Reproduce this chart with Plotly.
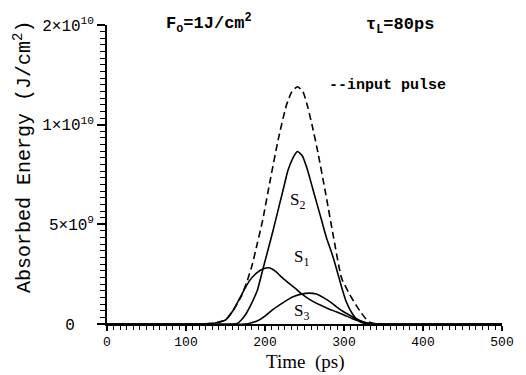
import plotly.graph_objects as go

# ---- data (values in units of 1e10 J/cm^2 per axis scale) ----
t_input = [0, 120, 130, 140, 150, 160, 170, 177, 184, 190, 197, 207, 217, 227, 234, 241,
           248, 254, 260, 266, 277, 287, 297, 307, 316, 322, 328, 335, 345, 500]
v_input = [0, 0, 0.002, 0.008, 0.02, 0.07, 0.14, 0.21, 0.30, 0.40, 0.52, 0.73, 0.93, 1.096, 1.165, 1.19,
           1.165, 1.09, 0.99, 0.88, 0.65, 0.43, 0.23, 0.15, 0.09, 0.055, 0.025, 0.005, 0, 0]

t_s1 = [0, 120, 130, 140, 150, 160, 170, 180, 190, 198, 205, 213, 221, 230, 238, 246,
        252, 260, 270, 280, 291, 300, 310, 320, 332, 345, 500]
v_s1 = [0, 0, 0.002, 0.008, 0.02, 0.07, 0.144, 0.215, 0.258, 0.277, 0.282, 0.265, 0.235, 0.205, 0.18, 0.152,
        0.135, 0.115, 0.095, 0.077, 0.06, 0.045, 0.028, 0.014, 0.003, 0, 0]

t_s2 = [0, 160, 165, 170, 175, 180, 185, 190, 197, 203, 209, 214, 219, 224, 229, 235, 241,
        247, 254, 260, 266, 272, 278, 285, 291, 297, 303, 310, 317, 325, 335, 500]
v_s2 = [0, 0, 0.003, 0.02, 0.045, 0.08, 0.12, 0.165, 0.27, 0.36, 0.45, 0.53, 0.61, 0.69, 0.77, 0.83, 0.865,
        0.845, 0.77, 0.685, 0.60, 0.515, 0.43, 0.35, 0.27, 0.185, 0.11, 0.055, 0.02, 0.004, 0, 0]

t_s3 = [0, 175, 182, 190, 200, 209, 220, 230, 238, 246, 256, 265, 275, 283, 291, 300, 310, 320, 328, 335, 500]
v_s3 = [0, 0, 0.005, 0.015, 0.04, 0.07, 0.10, 0.125, 0.14, 0.15, 0.155, 0.15, 0.13, 0.11, 0.085, 0.06,
        0.038, 0.018, 0.006, 0, 0]

y_tickvals = [0, 0.5, 1.0, 1.5]
y_ticktext = ["0\u00a0\u00a0", "5×10<sup>9</sup>", "1×10<sup>10</sup>", "2×10<sup>10</sup>"]
x_tickvals = [0, 100, 200, 300, 400, 500]

fig = go.Figure()
line = dict(color="black", width=1.6, shape="spline", smoothing=0.6)
fig.add_trace(go.Scatter(x=t_input, y=v_input, mode="lines",
                         line=dict(color="black", width=1.6, dash="7px,4px", shape="spline", smoothing=0.6)))
fig.add_trace(go.Scatter(x=t_s1, y=v_s1, mode="lines", line=line))
fig.add_trace(go.Scatter(x=t_s2, y=v_s2, mode="lines", line=line))
fig.add_trace(go.Scatter(x=t_s3, y=v_s3, mode="lines", line=line))

mono = "Liberation Mono"
serif = "Liberation Serif"

fig.update_layout(
    width=526, height=375,
    margin=dict(l=107, r=13, t=25, b=51),
    paper_bgcolor="white", plot_bgcolor="white",
    showlegend=False,
    xaxis=dict(range=[0, 500], tickvals=x_tickvals, showgrid=False, zeroline=False,
               showline=True, linecolor="black", linewidth=1.5,
               ticks="outside", ticklen=5, tickwidth=1.5, tickcolor="black",
               minor=dict(dtick=100 / 12, tick0=0, ticks="outside", ticklen=4, tickwidth=1.2, tickcolor="black"),
               tickfont=dict(family=mono, size=13, color="black")),
    yaxis=dict(range=[0, 1.5], tickvals=y_tickvals, ticktext=y_ticktext, showgrid=False, zeroline=False,
               showline=True, linecolor="black", linewidth=1.5,
               ticks="outside", ticklen=8, tickwidth=1.5, tickcolor="black",
               minor=dict(dtick=0.5 / 15, tick0=0, ticks="outside", ticklen=5, tickwidth=1.2, tickcolor="black"),
               tickfont=dict(family=mono, size=16, color="black")),
)

fig.add_annotation(text="Absorbed Energy (J/cm<sup>2</sup>)", xref="paper", yref="paper",
                   x=-0.214, y=0.56, xanchor="center", yanchor="middle", textangle=-90, showarrow=False,
                   font=dict(family=mono, size=20, color="black"))
fig.add_annotation(text="Time  (ps)", xref="paper", yref="paper",
                   x=0.5, y=-0.17, xanchor="center", yanchor="bottom", showarrow=False,
                   font=dict(family=serif, size=19, color="black"))
fig.add_annotation(text="<b>F<sub>o</sub>=1J/cm<sup>2</sup></b>", xref="paper", yref="paper",
                   x=0.259, y=1.005, xanchor="center", yanchor="middle",
                   showarrow=False, font=dict(family=mono, size=17, color="black"))
fig.add_annotation(text="<b>τ<sub>L</sub>=80ps</b>", xref="paper", yref="paper",
                   x=0.741, y=0.995, xanchor="center", yanchor="middle",
                   showarrow=False, font=dict(family=mono, size=17, color="black"))
fig.add_annotation(text="<b>--input pulse</b>", xref="x", yref="y", x=355, y=1.197,
                   showarrow=False, font=dict(family=mono, size=15, color="black"))
for txt, xx, yy in [("S<sub>2</sub>", 241, 0.616), ("S<sub>1</sub>", 246, 0.333), ("S<sub>3</sub>", 246, 0.06)]:
    fig.add_annotation(text=txt, xref="x", yref="y", x=xx, y=yy, showarrow=False,
                       font=dict(family=serif, size=17, color="black"))

fig.write_html("out.html")
